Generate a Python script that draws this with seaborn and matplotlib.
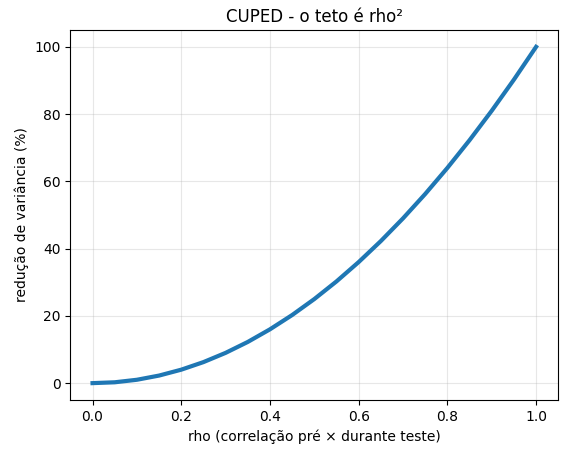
import matplotlib
matplotlib.use("Agg")
import matplotlib.pyplot as plt
import seaborn as sns
import pandas as pd

rho = [0.0, 0.05, 0.1, 0.15, 0.2, 0.25, 0.3, 0.35, 0.4, 0.45, 0.5,
       0.55, 0.6, 0.65, 0.7, 0.75, 0.8, 0.85, 0.9, 0.95, 1.0]
reducao = [0.0, 0.25, 1.0, 2.25, 4.0, 6.25, 9.0, 12.25, 16.0, 20.25, 25.0,
           30.25, 36.0, 42.25, 49.0, 56.25, 64.0, 72.25, 81.0, 90.25, 100.0]

df = pd.DataFrame({"rho": rho, "red": reducao})

fig, ax = plt.subplots(figsize=(5.72, 4.55), dpi=100)
sns.lineplot(data=df, x="rho", y="red", ax=ax, color="#1f77b4", linewidth=3)
ax.grid(True, alpha=0.3)
ax.set_title("CUPED - o teto é rho²")
ax.set_xlabel("rho (correlação pré × durante teste)")
ax.set_ylabel("redução de variância (%)")
fig.subplots_adjust(left=0.123, right=0.976, top=0.934, bottom=0.121)
fig.savefig("out.png", dpi=100)
